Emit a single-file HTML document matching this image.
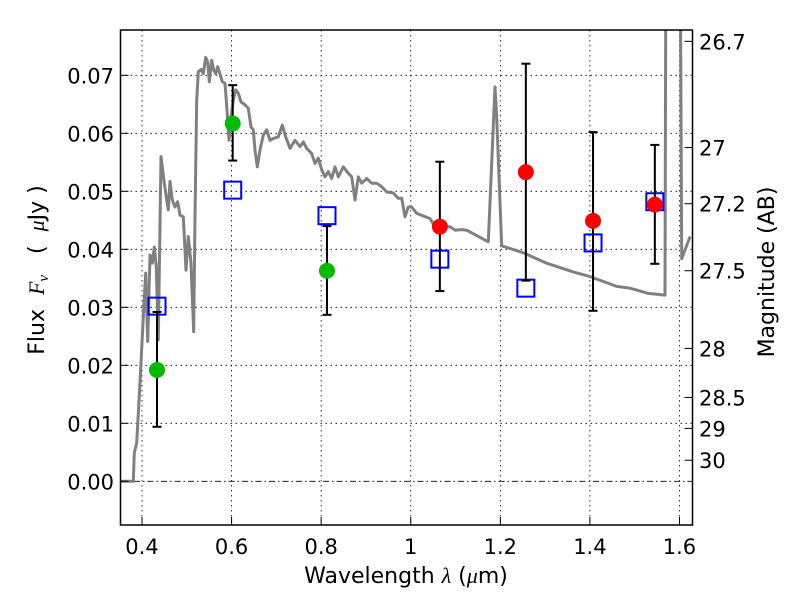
<!DOCTYPE html>
<html><head><meta charset="utf-8"><style>
body{margin:0;background:#fff;}
svg text{font-family:"DejaVu Sans","Liberation Sans",sans-serif;fill:#000;}
</style></head><body>
<svg id="chart" width="800" height="600" xmlns="http://www.w3.org/2000/svg">
<defs><clipPath id="clip"><rect x="120.5" y="30" width="572" height="495"/></clipPath></defs>
<g id="grid"></g>
<g id="spec" clip-path="url(#clip)"></g>
<g id="marks"></g>
<rect x="120.5" y="30" width="572" height="495" fill="none" stroke="#000" stroke-width="1.5"/>
<g id="axes"></g>
<text x="406" y="583" font-size="22" text-anchor="middle">Wavelength  <tspan font-family="Liberation Serif" font-style="italic">λ</tspan> (<tspan font-family="Liberation Serif" font-style="italic">μ</tspan>m)</text>
<text transform="translate(44,270) rotate(-90)" font-size="22" text-anchor="middle" xml:space="preserve">Flux  <tspan font-family="Liberation Serif" font-style="italic">F<tspan font-size="15" dy="4">ν</tspan></tspan><tspan dy="-4">   (  </tspan><tspan font-family="Liberation Serif" font-style="italic">μ</tspan>Jy )</text>
<text transform="translate(774,272) rotate(-90)" font-size="22" text-anchor="middle">Magnitude (AB)</text>
</svg>
<script>
const specWave=[0.3509,0.3806,0.3828,0.3882,0.3955,0.4029,0.4083,0.4127,0.4179,0.4230,0.4275,0.4319,0.4364,0.4424,0.4498,0.4551,0.4587,0.4625,0.4677,0.4737,0.4797,0.4848,0.4922,0.4982,0.5034,0.5094,0.5154,0.5183,0.5221,0.5257,0.5317,0.5369,0.5422,0.5467,0.5503,0.5556,0.5601,0.5645,0.5690,0.5748,0.5793,0.5853,0.5898,0.5942,0.5987,0.6038,0.6092,0.6150,0.6210,0.6300,0.6373,0.6434,0.6485,0.6523,0.6574,0.6635,0.6708,0.6784,0.6858,0.6931,0.7043,0.7132,0.7208,0.7304,0.7416,0.7528,0.7601,0.7677,0.7789,0.7862,0.7936,0.8012,0.8086,0.8159,0.8235,0.8309,0.8382,0.8494,0.8606,0.8682,0.8755,0.8829,0.8905,0.9017,0.9128,0.9240,0.9352,0.9463,0.9611,0.9722,0.9798,0.9872,0.9946,1.0021,1.0133,1.0430,1.0542,1.0876,1.0988,1.1138,1.1249,1.1732,1.1881,1.1919,1.2031,1.2513,1.3036,1.3630,1.4002,1.4598,1.4895,1.5304,1.5677,1.5699,1.6012,1.6050,1.6236];
const specFlux=[0,0,0.0049,0.0066,0.017,0.0284,0.0359,0.0241,0.039,0.0376,0.0404,0.037,0.0244,0.056,0.0514,0.0485,0.0468,0.0517,0.0485,0.0473,0.0482,0.0459,0.0456,0.0364,0.0422,0.0376,0.0258,0.0456,0.0657,0.0706,0.071,0.0703,0.0731,0.0723,0.0689,0.0726,0.0709,0.0703,0.0715,0.07,0.0689,0.0686,0.064,0.0588,0.0628,0.0657,0.0675,0.0669,0.0654,0.0649,0.0643,0.0611,0.0606,0.0571,0.0542,0.0571,0.0597,0.0606,0.0588,0.0591,0.0594,0.0614,0.0594,0.0574,0.0588,0.0577,0.0585,0.0574,0.0565,0.0548,0.0557,0.0537,0.0525,0.0534,0.0522,0.0542,0.0525,0.0542,0.0531,0.0525,0.0485,0.0525,0.0514,0.0522,0.0514,0.0514,0.0508,0.0499,0.0497,0.0488,0.0488,0.0456,0.0473,0.0473,0.0462,0.0453,0.0439,0.0439,0.0433,0.0434,0.0433,0.0413,0.068,0.0628,0.0406,0.0394,0.0376,0.0361,0.0353,0.0336,0.0333,0.0324,0.0321,0.1,0.1,0.0384,0.0422];
const greenWave=[0.4335,0.6025,0.813];
const greenFlux=[0.0192,0.0617,0.0363];
const greenLo=[0.0094,0.0553,0.0287];
const greenHi=[0.0292,0.0683,0.044];
const redWave=[1.065,1.257,1.407,1.545];
const redFlux=[0.0439,0.0533,0.0449,0.0477];
const redLo=[0.0328,0.0346,0.0294,0.0375];
const redHi=[0.0551,0.072,0.0602,0.058];
const modelWave=[0.4335,0.6025,0.813,1.065,1.257,1.407,1.545];
const modelFlux=[0.0302,0.0502,0.0458,0.0383,0.0333,0.0411,0.0482];
const xTicks=[0.4,0.6,0.8,1.0,1.2,1.4,1.6];
const xTickLabels=["0.4","0.6","0.8","1","1.2","1.4","1.6"];
const yTicks=[0,0.01,0.02,0.03,0.04,0.05,0.06,0.07];
const yTickLabels=["0.00","0.01","0.02","0.03","0.04","0.05","0.06","0.07"];
const magTicks=[26.7,27,27.2,27.5,28,28.5,29,30];
const magTickLabels=["26.7","27","27.2","27.5","28","28.5","29","30"];

const NS="http://www.w3.org/2000/svg";
const X=v=>142+(v-0.4)*447.9;
const Y=v=>481.3-v*5800;
const magToFlux=m=>Math.pow(10,(23.9-m)/2.5);
function mk(tag,attrs,parent){const e=document.createElementNS(NS,tag);for(const k in attrs)e.setAttribute(k,attrs[k]);parent.appendChild(e);return e;}
const grid=document.getElementById('grid'),axes=document.getElementById('axes'),spec=document.getElementById('spec'),marks=document.getElementById('marks');

xTicks.forEach((t,i)=>{
  const g=mk('line',{x1:X(t),x2:X(t),y1:30,y2:525,stroke:'#000','stroke-width':0.8,'stroke-dasharray':'1.5,3.5'},grid);
  
  
  const tk=mk('line',{x1:X(t),x2:X(t),y1:525,y2:517,stroke:'#000','stroke-width':1},axes);
  
  
  const tx=mk('text',{x:X(t),y:554,'font-size':21,'text-anchor':'middle'},axes);
  tx.textContent=xTickLabels[i];
  
  
});
yTicks.forEach((t,i)=>{
  const g=mk('line',{x1:120.5,x2:692.5,y1:Y(t),y2:Y(t),stroke:'#000','stroke-width':0.8,'stroke-dasharray':t===0?'6,3,1.5,3':'1.5,3.5'},grid);
  
  
  const tk=mk('line',{x1:120.5,x2:128.5,y1:Y(t),y2:Y(t),stroke:'#000','stroke-width':1},axes);
  
  
  const tx=mk('text',{x:114,y:Y(t)+8,'font-size':21,'text-anchor':'end'},axes);
  tx.textContent=yTickLabels[i];
  
  
});
magTicks.forEach((m,i)=>{
  const y=Y(magToFlux(m));
  const tk=mk('line',{x1:684.5,x2:692.5,y1:y,y2:y,stroke:'#000','stroke-width':1},axes);
  
  
  const tx=mk('text',{x:699,y:y+8,'font-size':21},axes);
  tx.textContent=magTickLabels[i];
  
  
});
const pts=specWave.map((w,i)=>X(w).toFixed(1)+','+Y(specFlux[i]).toFixed(1)).join(' ');
const pl=mk('polyline',{points:pts,fill:'none',stroke:'#808080','stroke-width':3,'stroke-linejoin':'round'},spec);



function errbar(w,lo,hi){
  const x=X(w);
  const g=mk('g',{stroke:'#000','stroke-width':2},marks);
  
  
  mk('line',{x1:x,x2:x,y1:Y(lo),y2:Y(hi)},g);
  mk('line',{x1:x-4.5,x2:x+4.5,y1:Y(lo),y2:Y(lo)},g);
  mk('line',{x1:x-4.5,x2:x+4.5,y1:Y(hi),y2:Y(hi)},g);
}
modelWave.forEach((w,i)=>{
  const r=mk('rect',{x:X(w)-8.5,y:Y(modelFlux[i])-8.5,width:17,height:17,fill:'none',stroke:'#0000ff','stroke-width':2},marks);
  
  
});
greenWave.forEach((w,i)=>{
  errbar(w,greenLo[i],greenHi[i]);
  const c=mk('circle',{cx:X(w),cy:Y(greenFlux[i]),r:8,fill:'#00bb00'},marks);
  
  
});
redWave.forEach((w,i)=>{
  errbar(w,redLo[i],redHi[i]);
  const c=mk('circle',{cx:X(w),cy:Y(redFlux[i]),r:8,fill:'#ff0000'},marks);
  
  
});
</script>
</body></html>
